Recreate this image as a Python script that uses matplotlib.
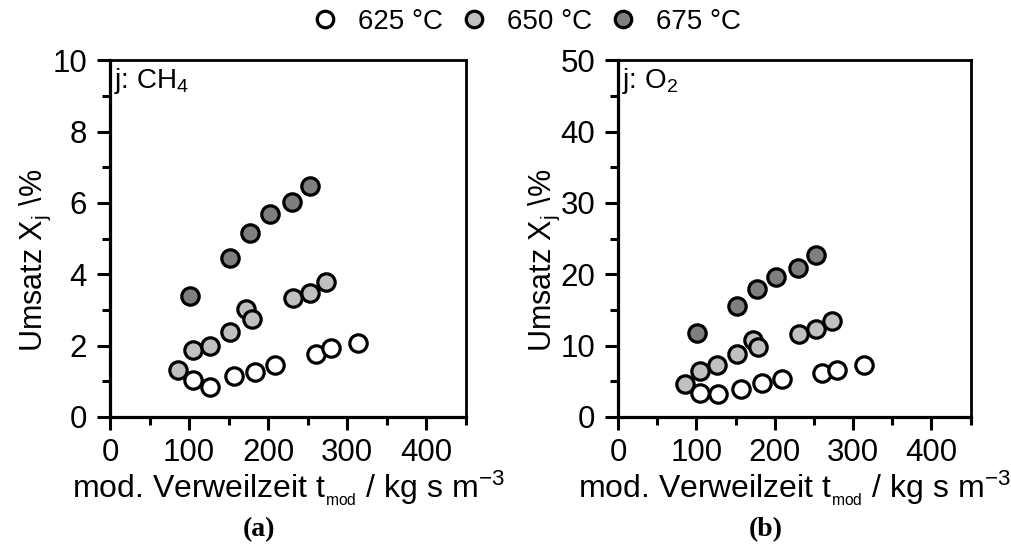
import matplotlib
matplotlib.use("Agg")
import matplotlib.pyplot as plt
from matplotlib.ticker import MultipleLocator

plt.rcParams['font.family'] = ['Liberation Sans', 'DejaVu Sans']
plt.rcParams['mathtext.fontset'] = 'custom'
plt.rcParams['mathtext.rm'] = 'Liberation Sans'
plt.rcParams['mathtext.it'] = 'Liberation Sans'
plt.rcParams['mathtext.default'] = 'rm'

# ---- data ----
temps = ["625 °C", "650 °C", "675 °C"]
colors = ["#FFFFFF", "#C0C0C0", "#7F7F7F"]

t_625 = [105, 127, 157, 184, 209, 260, 280, 314]
t_650 = [86, 105, 126, 152, 172, 179, 231, 253, 273]
t_675 = [101, 152, 177, 202, 230, 253]

ch4_625 = [1.04, 0.85, 1.15, 1.27, 1.45, 1.76, 1.93, 2.08]
ch4_650 = [1.32, 1.88, 1.99, 2.37, 3.03, 2.75, 3.34, 3.47, 3.78]
ch4_675 = [3.39, 4.45, 5.16, 5.69, 6.04, 6.48]

o2_625 = [3.37, 3.28, 3.93, 4.77, 5.29, 6.17, 6.56, 7.26]
o2_650 = [4.63, 6.46, 7.26, 8.8, 10.77, 9.79, 11.6, 12.4, 13.4]
o2_675 = [11.76, 15.5, 18.0, 19.66, 20.9, 22.75]

x_ticks = [0, 100, 200, 300, 400]
panels = [
    dict(ys=[ch4_625, ch4_650, ch4_675], ylim=10, ymajor=2, yminor=1,
         tag=r"j: CH$_{4}$", sub="(a)"),
    dict(ys=[o2_625, o2_650, o2_675], ylim=50, ymajor=10, yminor=5,
         tag=r"j: O$_{2}$", sub="(b)"),
]
xs = [t_625, t_650, t_675]

fig = plt.figure(figsize=(10.12, 5.53), dpi=100)
axes_pos = [[0.1087, 0.246, 0.3515, 0.645], [0.6107, 0.246, 0.3483, 0.645]]
FS = 22.5

handles = None
for pos, p in zip(axes_pos, panels):
    ax = fig.add_axes(pos)
    order = [1, 0, 2]
    hdict = {}
    for i in order:
        h, = ax.plot(xs[i], p["ys"][i], linestyle='none', marker='o', ms=12.5,
                     mfc=colors[i], mec='black', mew=2.3, label=temps[i],
                     clip_on=False, zorder=3)
        hdict[i] = h
    handles = [hdict[0], hdict[1], hdict[2]]
    ax.set_xlim(0, 450)
    ax.set_ylim(0, p["ylim"])
    ax.set_xticks(x_ticks)
    ax.xaxis.set_minor_locator(MultipleLocator(50))
    ax.yaxis.set_major_locator(MultipleLocator(p["ymajor"]))
    ax.yaxis.set_minor_locator(MultipleLocator(p["yminor"]))
    ax.tick_params(which='both', direction='out', width=2.2, top=False, right=False,
                   labelsize=FS)
    ax.tick_params(which='major', length=9.5)
    ax.tick_params(axis='x', which='major', pad=6)
    ax.tick_params(axis='y', which='major', pad=7)
    ax.tick_params(which='minor', length=5.5)
    for s in ax.spines.values():
        s.set_linewidth(2.0)
    ax.spines['left'].set_linewidth(2.3)
    ax.spines['bottom'].set_linewidth(2.3)
    ax.set_xlabel(r"mod. Verweilzeit t$_{_{\mathrm{mod}}}$ / kg s m$^{-3}$", fontsize=23, labelpad=0)
    ax.set_ylabel(r"Umsatz X$_{\mathrm{j}}$ \%", fontsize=22)
    ax.yaxis.set_label_coords(-0.16, 0.44)
    ax.text(0.01, 0.985, p["tag"], transform=ax.transAxes, ha='left', va='top', fontsize=20)
    ax.text(0.42, -0.315, p["sub"], transform=ax.transAxes, ha='center', va='center',
            fontsize=20, fontweight='bold', family='Liberation Serif')

fig.legend(handles=handles, labels=temps, loc='center', bbox_to_anchor=(0.52, 0.96),
           ncol=3, frameon=False, fontsize=20, handlelength=1.0, handletextpad=0.7,
           columnspacing=0.6, markerscale=0.95)

fig.savefig("out.png", dpi=100)
